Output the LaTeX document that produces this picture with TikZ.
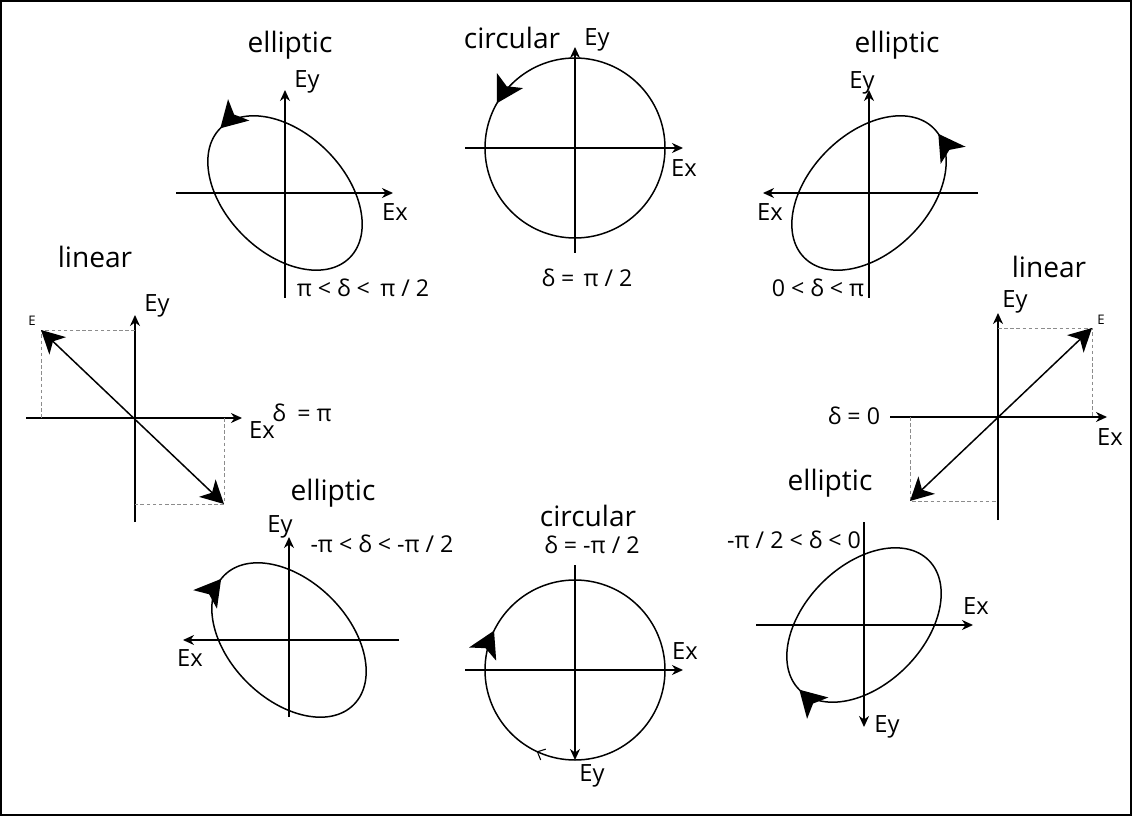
\documentclass[tikz,border=0pt]{standalone}
\usepackage{fontspec}
\setmainfont{Open Sans}
\usetikzlibrary{arrows.meta,decorations.markings}

\begin{document}
\begin{tikzpicture}[
    spin/.tip={Stealth[length=5.2mm,width=6mm,inset=1.3mm]},
    axis/.style={-{Stealth[length=2.2mm,width=2mm,inset=.7mm]},line width=.85pt},
    orbit/.style={line width=.85pt},
    ccw/.style={orbit,postaction={decorate,decoration={markings,
        mark=at position #1 with {\arrow{spin}}}}},
    cw/.style={orbit,postaction={decorate,decoration={markings,
        mark=at position #1 with {\arrowreversed{spin}}}}},
    vec/.style={{Stealth[length=4.6mm,width=4.8mm,inset=1.3mm]}-{Stealth[length=4.6mm,width=4.8mm,inset=1.3mm]},line width=.85pt},
    guide/.style={draw=black!45,line width=.55pt,dash pattern=on 2pt off 1.5pt},
    title/.style={font=\fontsize{16}{19}\selectfont},
    lab/.style={font=\fontsize{13.5}{16}\selectfont},
    cond/.style={font=\fontsize{13.2}{16}\selectfont},
    elabel/.style={font=\fontsize{7.5}{9}\selectfont}]
\useasboundingbox (0,0) rectangle (22.64,-16.32);
\draw[line width=1pt] (.02,-.02) rectangle (22.62,-16.30);

\begin{scope}[shift={(5.70,-3.86)}]
\draw[axis] (-2.18,0) -- (2.16,0);
\draw[axis] (0,-2.10) -- (0,2.06);
\draw[ccw=.5,rotate=-45] (0,0) ellipse [x radius=1.83,y radius=1.19];
\end{scope}
\node[title] (ell1) at (5.80,-.90) {elliptic};
\node[lab] (ey1) at (6.14,-1.64) {Ey};
\node[lab] (ex1) at (7.90,-4.24) {Ex};
\node[cond] (d1) at (7.26,-5.76) {π < δ <\hspace{.45em}π / 2};

\begin{scope}[shift={(11.50,-2.96)}]
\draw[axis] (-2.20,0) -- (2.16,0);
\draw[axis] (0,-2.10) -- (0,2.02);
\draw[ccw=.417] (0,0) circle [radius=1.8];
\end{scope}
\node[title] (circ1) at (10.24,-.76) {circular};
\node[lab] (ey2) at (11.94,-.80) {Ey};
\node[lab] (ex2) at (13.68,-3.36) {Ex};
\node[cond] (d2) at (11.74,-5.56) {δ =\hspace{.4em}π / 2};

\begin{scope}[shift={(17.38,-3.86)}]
\draw[axis] (2.18,0) -- (-2.12,0);
\draw[axis] (0,-2.10) -- (0,2.06);
\draw[ccw=.985,rotate=45] (0,0) ellipse [x radius=1.83,y radius=1.19];
\end{scope}
\node[title] (ell2) at (17.94,-.90) {elliptic};
\node[lab] (ey3) at (17.24,-1.66) {Ey};
\node[lab] (ex3) at (15.40,-4.24) {Ex};
\node[cond] (d3) at (16.36,-5.76) {0 < δ < π};

\begin{scope}[shift={(2.70,-8.36)}]
\draw[axis] (-2.18,0) -- (2.14,0);
\draw[axis] (0,-2.08) -- (0,2.06);
\draw[guide] (0,1.76) -- (-1.88,1.76) -- (-1.88,0);
\draw[guide] (1.78,0) -- (1.78,-1.72) -- (0,-1.72);
\draw[vec] (-1.88,1.76) -- (1.78,-1.72);
\end{scope}
\node[title] (lin1) at (1.90,-5.14) {linear};
\node[elabel] (e1) at (.64,-6.42) {E};
\node[lab] (ey4) at (3.14,-6.12) {Ey};
\node[lab] (ex4) at (5.24,-8.60) {Ex};
\node[cond] (d4) at (6.04,-8.26) {δ\hspace{.5em}= π};

\begin{scope}[shift={(19.96,-8.34)}]
\draw[axis] (-2.16,0) -- (2.18,0);
\draw[axis] (0,-2.06) -- (0,2.08);
\draw[guide] (0,1.78) -- (1.88,1.78) -- (1.88,0);
\draw[guide] (-1.76,0) -- (-1.76,-1.68) -- (0,-1.68);
\draw[vec] (-1.76,-1.68) -- (1.88,1.78);
\end{scope}
\node[title] (lin2) at (20.98,-5.34) {linear};
\node[elabel] (e2) at (22.02,-6.40) {E};
\node[lab] (ey5) at (20.30,-6.04) {Ey};
\node[lab] (ex5) at (22.20,-8.74) {Ex};
\node[cond] (d5) at (17.08,-8.32) {δ = 0};

\begin{scope}[shift={(5.78,-12.80)}]
\draw[axis] (2.20,0) -- (-2.12,0);
\draw[axis] (0,-1.54) -- (0,2.06);
\draw[cw=.51,rotate=-45] (0,0) ellipse [x radius=1.83,y radius=1.19];
\end{scope}
\node[title] (ell3) at (6.66,-9.86) {elliptic};
\node[lab] (ey6) at (5.60,-10.54) {Ey};
\node[lab] (ex6) at (3.80,-13.16) {Ex};
\node[cond] (d6) at (7.64,-10.88) {-π < δ < -π / 2};

\begin{scope}[shift={(11.50,-13.40)}]
\draw[axis] (-2.20,0) -- (2.16,0);
\draw[axis] (0,2.10) -- (0,-1.80);
\draw[cw=.428,postaction={decorate,decoration={markings,
    mark=at position .68 with {\arrowreversed[line width=.6pt]{Straight Barb[length=1.3mm,width=2.4mm]}}}}]
    (0,0) circle [radius=1.8];
\end{scope}
\node[title] (circ2) at (11.76,-10.32) {circular};
\node[cond] (d7) at (11.84,-10.90) {δ = -π / 2};
\node[lab] (ex7) at (13.70,-13.02) {Ex};
\node[lab] (ey7) at (11.84,-15.52) {Ey};

\begin{scope}[shift={(17.28,-12.50)}]
\draw[axis] (-2.16,0) -- (2.18,0);
\draw[axis] (0,2.06) -- (0,-2.04);
\draw[cw=.5,rotate=45] (0,0) ellipse [x radius=1.83,y radius=1.19];
\end{scope}
\node[title] (ell4) at (16.60,-9.66) {elliptic};
\node[cond] (d8) at (15.88,-10.80) {-π / 2 < δ < 0};
\node[lab] (ex8) at (19.52,-12.12) {Ex};
\node[lab] (ey8) at (17.74,-14.54) {Ey};
\end{tikzpicture}
\end{document}
